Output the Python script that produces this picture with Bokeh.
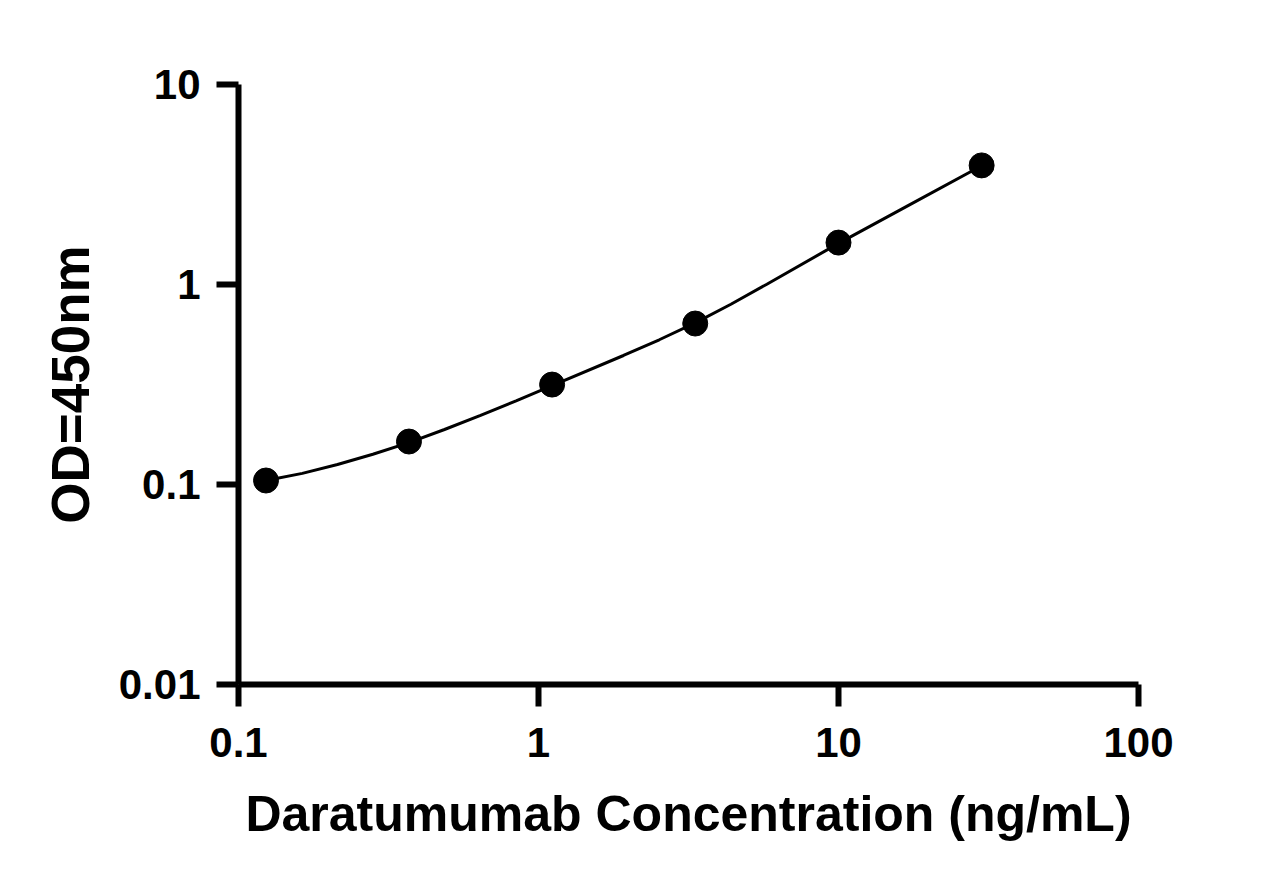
from bokeh.plotting import figure
from bokeh.models import FixedTicker, CustomJSTickFormatter
from bokeh.embed import file_html
from bokeh.resources import INLINE

# measured points (3-fold dilution series)
conc = [0.1235, 0.37, 1.11, 3.33, 10, 30]
od = [0.1047, 0.164, 0.316, 0.638, 1.62, 3.94]

# fitted curve
curve_x = [0.1235, 0.1632, 0.2138, 0.2805, 0.37, 0.4861, 0.641, 0.842, 1.11,
           1.92, 2.527, 3.33, 4.379, 5.77, 10, 17.3, 30]
curve_y = [0.1047, 0.1137, 0.1259, 0.1416, 0.1620, 0.1884, 0.2216, 0.2620, 0.3122,
           0.4416, 0.5293, 0.6427, 0.7967, 1.0035, 1.605, 2.509, 3.923]

x_ticks = [0.1, 1, 10, 100]
y_ticks = [0.01, 0.1, 1, 10]

FONT = "Liberation Sans"

p = figure(width=1260, height=869, x_axis_type="log", y_axis_type="log",
           x_range=(0.1, 100), y_range=(0.01, 10),
           output_backend="svg", toolbar_location=None,
           min_border_left=238, min_border_right=122,
           min_border_top=84, min_border_bottom=185)

p.outline_line_color = None
p.xgrid.visible = False
p.ygrid.visible = False

p.line(curve_x, curve_y, line_width=3, color="black")
p.scatter(conc, od, size=25, color="black")

p.xaxis.ticker = FixedTicker(ticks=x_ticks, minor_ticks=[])
p.yaxis.ticker = FixedTicker(ticks=y_ticks, minor_ticks=[])
fmt = CustomJSTickFormatter(code="return tick.toString();")
p.xaxis.formatter = fmt
p.yaxis.formatter = fmt

for ax in (p.xaxis, p.yaxis):
    ax.axis_line_width = 6
    ax.axis_line_color = "black"
    ax.major_tick_line_width = 6
    ax.major_tick_line_color = "black"
    ax.major_tick_out = 22
    ax.major_tick_in = 0
    ax.minor_tick_line_color = None
    ax.major_label_text_font = FONT
    ax.major_label_text_font_style = "bold"
    ax.major_label_text_font_size = "42px"
    ax.major_label_text_color = "black"
    ax.axis_label_text_font = FONT
    ax.axis_label_text_font_style = "bold"
    ax.axis_label_text_color = "black"

p.xaxis.axis_label = "Daratumumab Concentration (ng/mL)"
p.yaxis.axis_label = "OD=450nm"
p.xaxis.axis_label_text_font_size = "50px"
p.yaxis.axis_label_text_font_size = "53px"
p.xaxis.major_label_standoff = 21
p.yaxis.major_label_standoff = 16
p.xaxis.axis_label_standoff = 26
p.yaxis.axis_label_standoff = 16

open("out.html", "w").write(file_html(p, INLINE))
